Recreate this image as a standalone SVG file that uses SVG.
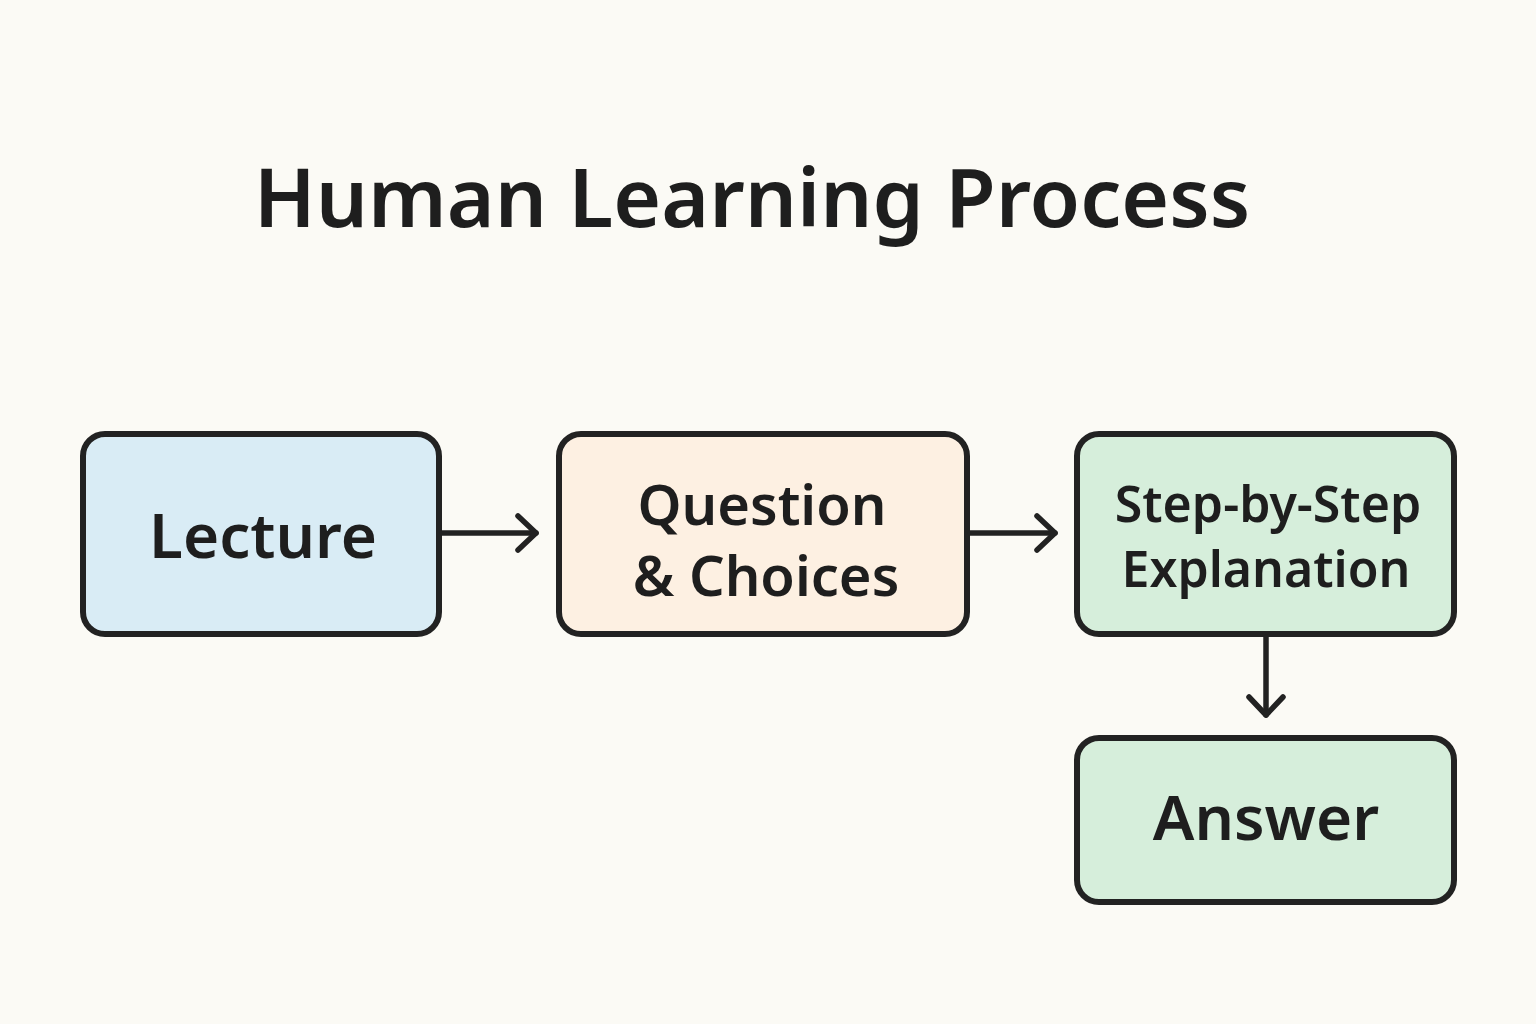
<svg xmlns="http://www.w3.org/2000/svg" width="1536" height="1024" viewBox="0 0 1536 1024">
<defs>
<marker id="chev" viewBox="0 0 26 40" refX="21" refY="20" markerWidth="26" markerHeight="40" markerUnits="userSpaceOnUse" orient="auto">
<path d="M3 3 L21 20 L3 37" fill="none" stroke="#222" stroke-width="5.5" stroke-linecap="round" stroke-linejoin="round"/>
</marker>
</defs>
<style>
.box{stroke:#222;stroke-width:6}
.lbl{font-family:"Noto Sans","Open Sans",sans-serif;font-weight:600;fill:#1e1e1e;text-anchor:middle}
.conn{stroke:#222;stroke-width:5.5;fill:none;stroke-linecap:round}
</style>
<rect width="1536" height="1024" fill="#fbfaf5"/>
<text id="title" class="lbl" x="752" y="227" font-size="82">Human Learning Process</text>
<g id="lecture">
<rect class="box" x="83" y="434" width="356" height="200" rx="22" fill="#d9ecf5"/>
<text class="lbl" x="263" y="558" font-size="62">Lecture</text>
</g>
<g id="question">
<rect class="box" x="559" y="434" width="408" height="200" rx="22" fill="#fdf0e2"/>
<text class="lbl" x="762" y="525" font-size="56">Question</text>
<text class="lbl" x="766" y="596" font-size="56">&amp; Choices</text>
</g>
<g id="step">
<rect class="box" x="1077" y="434" width="377" height="200" rx="22" fill="#d6eedb"/>
<text class="lbl" x="1268" y="522" font-size="50">Step-by-Step</text>
<text class="lbl" x="1266" y="587" font-size="50">Explanation</text>
</g>
<g id="answer">
<rect class="box" x="1077" y="738" width="377" height="164" rx="22" fill="#d6eedb"/>
<text class="lbl" x="1266" y="840" font-size="62">Answer</text>
</g>
<g id="connectors">
<line class="conn" x1="442" y1="533" x2="536" y2="533" marker-end="url(#chev)"/>
<line class="conn" x1="970" y1="533" x2="1055" y2="533" marker-end="url(#chev)"/>
<line class="conn" x1="1266" y1="637" x2="1266" y2="715" marker-end="url(#chev)"/>
</g>
</svg>
